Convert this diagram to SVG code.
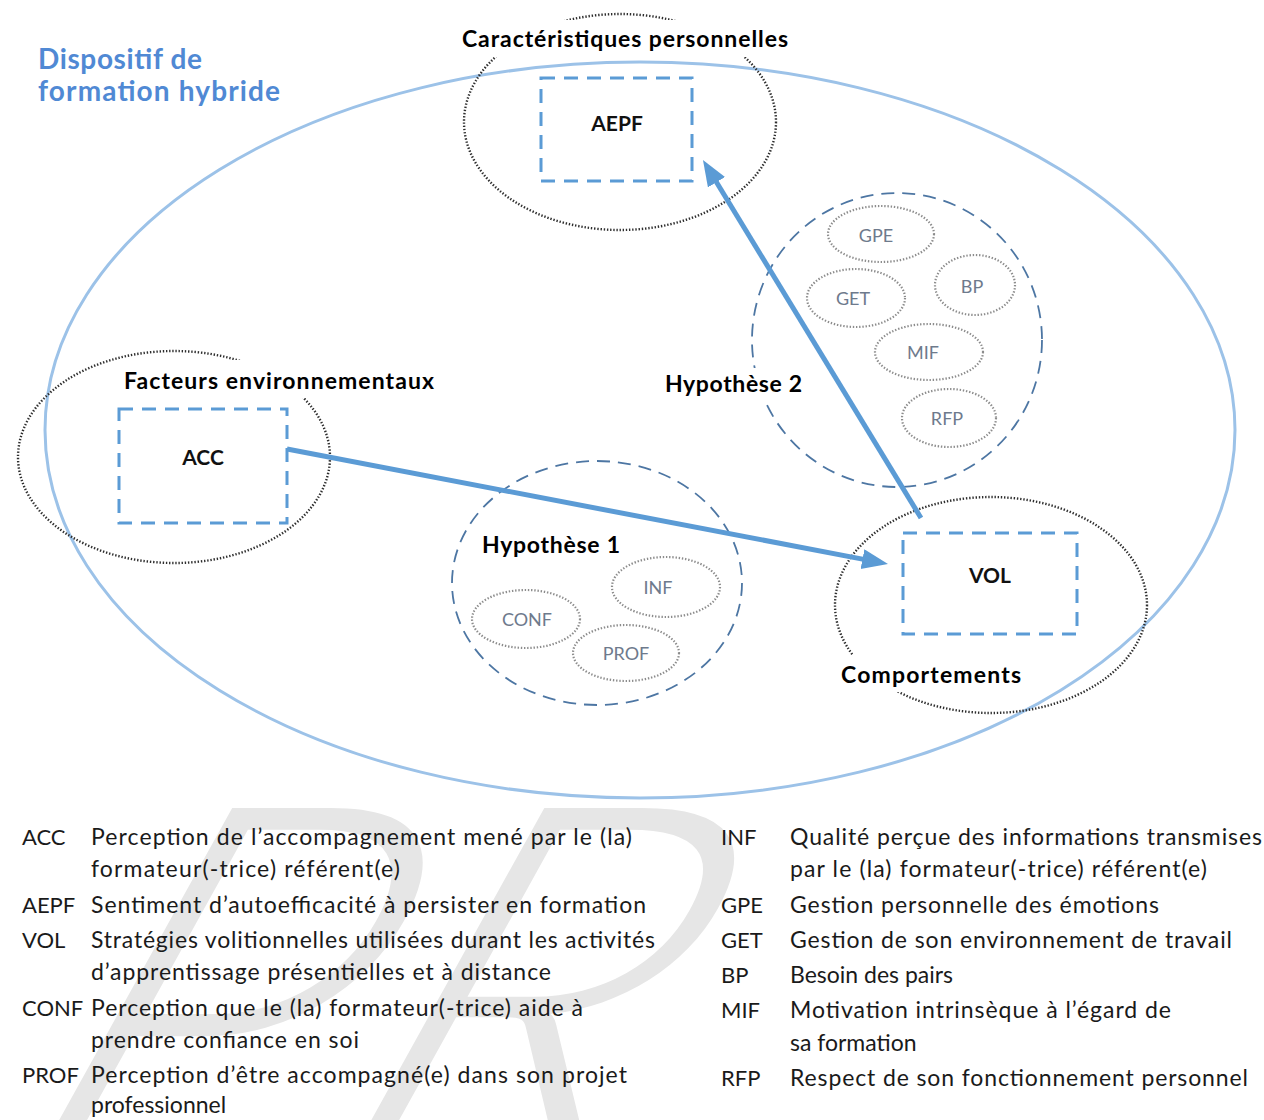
<svg xmlns="http://www.w3.org/2000/svg" width="1264" height="1120" viewBox="0 0 1264 1120">
<defs>
<style>
.wm{font-family:Lato,"Liberation Sans",sans-serif;font-weight:300;fill:#e6e6e6}
.title{font-family:Lato,"Open Sans",sans-serif;font-weight:700;font-size:28px;fill:#5089d4}
.lab{font-family:Lato,"Open Sans",sans-serif;font-weight:700;font-size:23px;fill:#000}
.node{font-family:Lato,"Open Sans",sans-serif;font-weight:700;font-size:21px;fill:#111;text-anchor:middle}
.sm{font-family:Lato,"Open Sans",sans-serif;font-size:18px;fill:#6e7a8c;text-anchor:middle}
.leg{font-family:Lato,"Open Sans",sans-serif;font-size:23px;fill:#1a1a1a}
.ab{font-family:Lato,"Open Sans",sans-serif;font-size:22px;fill:#1a1a1a}
.big{fill:none;stroke:#9cc2e8;stroke-width:3}
.dot{fill:none;stroke:#2e2e2e;stroke-width:2.4;stroke-dasharray:1.4 1.8}
.hyp{fill:none;stroke:#4d76a3;stroke-width:1.8;stroke-dasharray:13 8}
.sdot{fill:none;stroke:#8c8c8c;stroke-width:2.2;stroke-dasharray:1.4 1.8}
.box{fill:none;stroke:#5b9bd5;stroke-width:3;stroke-dasharray:14 9}
.bg{fill:#fff}
.arr{stroke:#5b9bd5;stroke-width:5;fill:none}
</style>
<marker id="ah" markerUnits="userSpaceOnUse" markerWidth="28" markerHeight="22" refX="4" refY="10" orient="auto">
<path d="M0,0 L26,10 L0,20 z" fill="#5b9bd5"/>
</marker>
<clipPath id="wmclip"><rect x="0" y="800" width="1264" height="320"/></clipPath>
</defs>
<rect width="1264" height="1120" fill="#fff"/>
<g id="watermark" clip-path="url(#wmclip)">
<text class="wm" font-size="540" transform="translate(-36,1190) skewX(-29)">PR</text>
</g>
<g id="dispositif">
<ellipse class="big" cx="640" cy="430" rx="595" ry="368"/>
<text class="title" x="38" y="69" textLength="164">Dispositif de</text>
<text class="title" x="38" y="101" textLength="242">formation hybride</text>
</g>
<g id="hyp2">
<ellipse class="hyp" cx="897" cy="340" rx="145" ry="147"/>
<ellipse class="sdot" cx="881" cy="234" rx="53" ry="28"/>
<text class="sm" x="876" y="242">GPE</text>
<ellipse class="sdot" cx="975" cy="285" rx="40" ry="30"/>
<text class="sm" x="972" y="293">BP</text>
<ellipse class="sdot" cx="856" cy="298" rx="49" ry="29"/>
<text class="sm" x="853" y="305">GET</text>
<ellipse class="sdot" cx="929" cy="352" rx="54" ry="28"/>
<text class="sm" x="923" y="359">MIF</text>
<ellipse class="sdot" cx="949" cy="418" rx="47" ry="29"/>
<text class="sm" x="947" y="425">RFP</text>
<rect class="bg" x="660" y="368" width="146" height="32"/>
<text class="lab" x="665" y="392" textLength="137">Hypothèse 2</text>
</g>
<g id="hyp1">
<ellipse class="hyp" cx="597" cy="583" rx="145" ry="122"/>
<text class="lab" x="482" y="553" textLength="138">Hypothèse 1</text>
<ellipse class="sdot" cx="666" cy="587" rx="54" ry="30"/>
<text class="sm" x="658" y="594">INF</text>
<ellipse class="sdot" cx="526" cy="619" rx="54" ry="29"/>
<text class="sm" x="527" y="626">CONF</text>
<ellipse class="sdot" cx="626" cy="653" rx="53" ry="28"/>
<text class="sm" x="626" y="660">PROF</text>
</g>
<g id="aepf">
<ellipse class="dot" cx="620" cy="122" rx="156" ry="108"/>
<rect class="bg" x="455" y="20" width="338" height="37"/>
<text class="lab" x="462" y="47" textLength="326">Caractéristiques personnelles</text>
<rect class="box" x="541" y="78" width="151" height="103"/>
<text class="node" x="617" y="131">AEPF</text>
</g>
<g id="acc">
<ellipse class="dot" cx="174" cy="457" rx="156" ry="106"/>
<rect class="bg" x="115" y="360" width="325" height="38"/>
<text class="lab" x="124" y="389" textLength="310">Facteurs environnementaux</text>
<rect class="box" x="119" y="409" width="168" height="114"/>
<text class="node" x="203" y="465">ACC</text>
</g>
<g id="vol">
<ellipse class="dot" cx="991" cy="605" rx="156" ry="108"/>
<rect class="bg" x="838" y="655" width="188" height="37"/>
<text class="lab" x="841" y="683" textLength="180">Comportements</text>
<rect class="box" x="903" y="533" width="174" height="101"/>
<text class="node" x="990" y="583">VOL</text>
</g>
<g id="connectors">
<line class="arr" x1="287" y1="449" x2="866.4" y2="559.9" marker-end="url(#ah)"/>
<line class="arr" x1="921" y1="518" x2="714.4" y2="178.8" marker-end="url(#ah)"/>
</g>
<g id="legend">
<text class="ab" x="22" y="845">ACC</text>
<text class="leg" x="91" y="845" textLength="541">Perception de l’accompagnement mené par le (la)</text>
<text class="leg" x="91" y="877" textLength="309">formateur(-trice) référent(e)</text>
<text class="ab" x="22" y="913">AEPF</text>
<text class="leg" x="91" y="913" textLength="555">Sentiment d’autoefficacité à persister en formation</text>
<text class="ab" x="22" y="948">VOL</text>
<text class="leg" x="91" y="948" textLength="564">Stratégies volitionnelles utilisées durant les activités</text>
<text class="leg" x="91" y="980" textLength="460">d’apprentissage présentielles et à distance</text>
<text class="ab" x="22" y="1016">CONF</text>
<text class="leg" x="91" y="1016" textLength="492">Perception que le (la) formateur(-trice) aide à</text>
<text class="leg" x="91" y="1048" textLength="268">prendre confiance en soi</text>
<text class="ab" x="22" y="1083">PROF</text>
<text class="leg" x="91" y="1083" textLength="536">Perception d’être accompagné(e) dans son projet</text>
<text class="leg" x="91" y="1113">professionnel</text>
<text class="ab" x="721" y="845">INF</text>
<text class="leg" x="790" y="845" textLength="472">Qualité perçue des informations transmises</text>
<text class="leg" x="790" y="877" textLength="417">par le (la) formateur(-trice) référent(e)</text>
<text class="ab" x="721" y="913">GPE</text>
<text class="leg" x="790" y="913" textLength="369">Gestion personnelle des émotions</text>
<text class="ab" x="721" y="948">GET</text>
<text class="leg" x="790" y="948" textLength="442">Gestion de son environnement de travail</text>
<text class="ab" x="721" y="983">BP</text>
<text class="leg" x="790" y="983">Besoin des pairs</text>
<text class="ab" x="721" y="1018">MIF</text>
<text class="leg" x="790" y="1018" textLength="381">Motivation intrinsèque à l’égard de</text>
<text class="leg" x="790" y="1051">sa formation</text>
<text class="ab" x="721" y="1086">RFP</text>
<text class="leg" x="790" y="1086" textLength="458">Respect de son fonctionnement personnel</text>
</g>
</svg>
